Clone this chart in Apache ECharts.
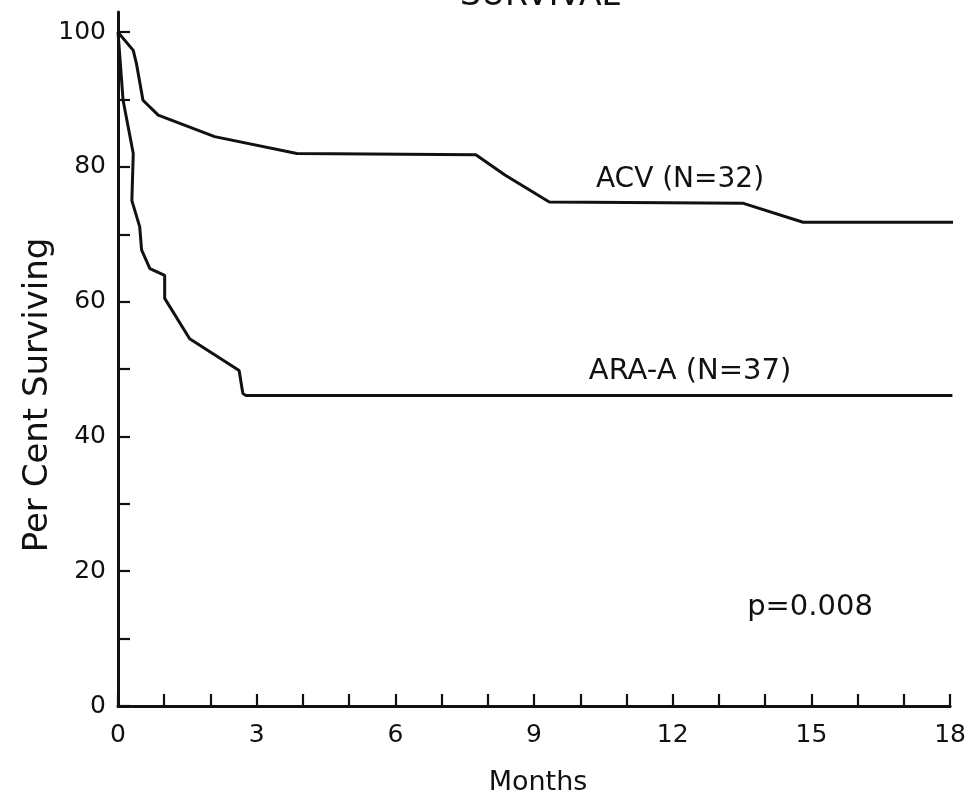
<!DOCTYPE html>
<html>
<head>
<meta charset="utf-8">
<title>Survival</title>
<script src="https://cdn.jsdelivr.net/npm/echarts@6/dist/echarts.min.js"></script>
<style>
  html, body { margin: 0; padding: 0; background: #fff; }
  #chart { width: 969px; height: 796px; }
</style>
</head>
<body>
<div id="chart"></div>
<script>
// survival curves (months, per cent surviving)
const acvMonths = [0, 0.33, 0.40, 0.54, 0.87, 2.09, 3.87, 7.74, 8.37, 9.33, 13.53, 14.82, 18.1];
const acvSurv   = [100, 97.3, 95.3, 89.9, 87.7, 84.5, 82.0, 81.8, 78.8, 74.8, 74.6, 71.8, 71.8];

const araMonths = [0, 0.11, 0.33, 0.30, 0.47, 0.51, 0.69, 1.01, 1.01, 1.55, 2.62, 2.70, 2.76, 18.05];
const araSurv   = [100, 89.9, 82.0, 75.0, 71.1, 67.7, 64.9, 63.9, 60.5, 54.5, 49.8, 46.4, 46.1, 46.1];

const xTicks = [0, 1, 2, 3, 4, 5, 6, 7, 8, 9, 10, 11, 12, 13, 14, 15, 16, 17, 18];
const xLabels = [0, 3, 6, 9, 12, 15, 18];
const yTicks = [0, 10, 20, 30, 40, 50, 60, 70, 80, 90, 100];
const yLabels = [0, 20, 40, 60, 80, 100];

const FONT = 'DejaVu Sans';
const INK = '#111';

const chart = echarts.init(document.getElementById('chart'));

const toPairs = (xs, ys) => xs.map((x, i) => [x, ys[i]]);

const lineSeries = (name, xs, ys) => ({
  name: name,
  type: 'line',
  data: toPairs(xs, ys),
  showSymbol: false,
  symbol: 'none',
  lineStyle: { color: INK, width: 3 },
  silent: true,
  animation: false
});

const label = (text, x, y, size, rotation) => ({
  type: 'text', x: x, y: y, rotation: rotation || 0,
  style: { text: text, font: size + 'px "DejaVu Sans"', fill: INK, textAlign: 'center', textVerticalAlign: 'middle' }
});

chart.setOption({
  backgroundColor: '#fff',
  animation: false,
  grid: { left: 118, right: 14, top: 12, bottom: 90 },
  xAxis: {
    type: 'value',
    min: 0,
    max: 18,
    axisLine: { show: true, lineStyle: { color: INK, width: 3 } },
    axisTick: { show: true, inside: true, length: 12, customValues: xTicks, lineStyle: { color: INK, width: 2.2 } },
    axisLabel: { customValues: xLabels, margin: 17, color: INK, fontFamily: FONT, fontSize: 25 },
    splitLine: { show: false }
  },
  yAxis: {
    type: 'value',
    min: 0,
    max: 103,
    axisLine: { show: true, lineStyle: { color: INK, width: 3 } },
    axisTick: { show: true, inside: true, length: 12, customValues: yTicks, lineStyle: { color: INK, width: 2.2 } },
    axisLabel: { customValues: yLabels, margin: 12, color: INK, fontFamily: FONT, fontSize: 25 },
    splitLine: { show: false }
  },
  graphic: [
    label('SURVIVAL', 540, -4, 33),
    label('Per Cent Surviving', 38, 395, 34, Math.PI / 2),
    label('Months', 538, 783, 27),
    label('ACV (N=32)', 680, 180, 28),
    label('ARA-A (N=37)', 690, 371, 29),
    label('p=0.008', 810, 607, 29)
  ],
  series: [
    lineSeries('ACV (N=32)', acvMonths, acvSurv),
    lineSeries('ARA-A (N=37)', araMonths, araSurv)
  ]
});
</script>
</body>
</html>
